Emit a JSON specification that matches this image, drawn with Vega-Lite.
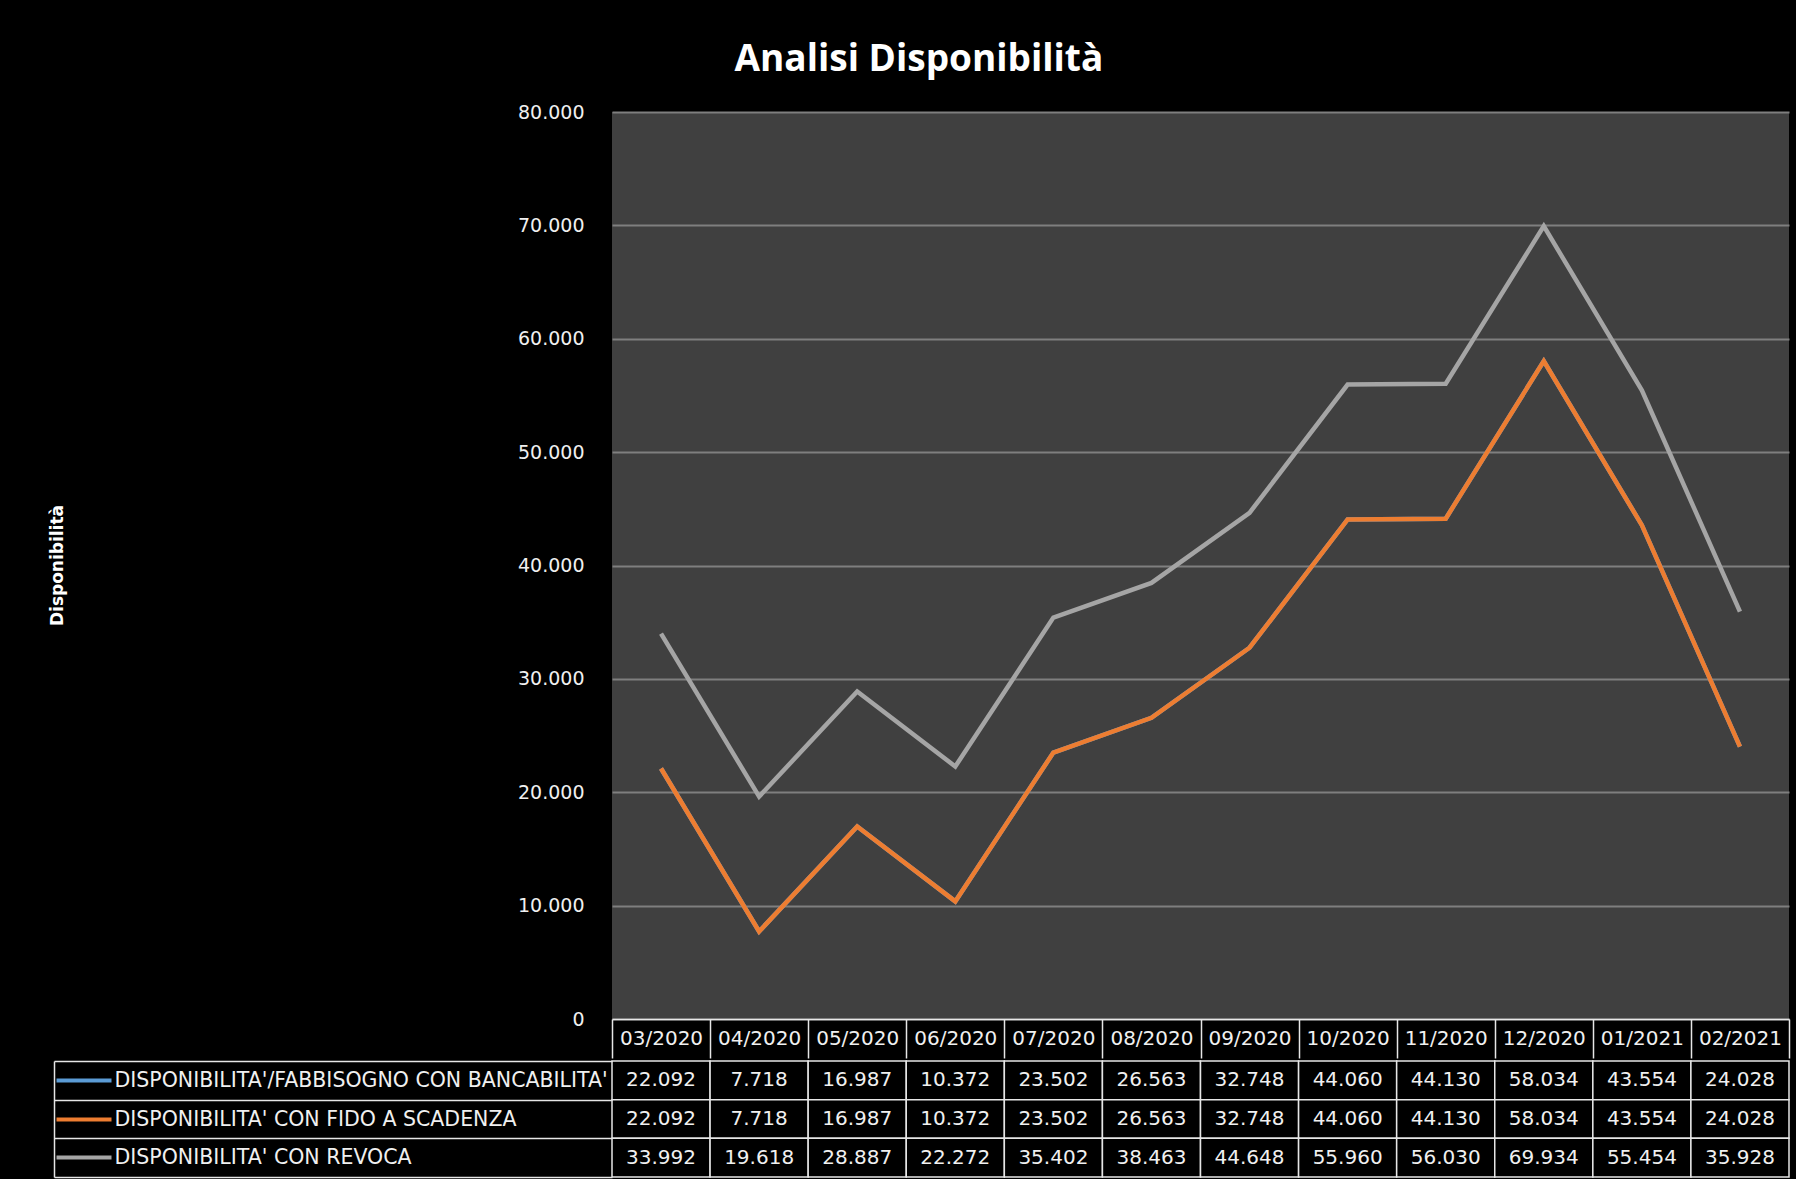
{
  "$schema": "https://vega.github.io/schema/vega-lite/v6.json",
  "background": "#000000",
  "padding": {"left": 48, "top": 41, "right": 9, "bottom": 4},
  "spacing": -8,
  "title": {"text": "Analisi Disponibilità", "font": "Open Sans", "fontSize": 37, "fontWeight": "bold", "color": "#ffffff", "anchor": "middle", "offset": 24},
  "config": {
    "locale": {"number": {"decimal": ",", "thousands": ".", "grouping": [3], "currency": ["€", ""]}},
    "view": {"stroke": null},
    "font": "DejaVu Sans"
  },
  "datasets": {
    "d": [
      {"serie": "DISPONIBILITA'/FABBISOGNO CON BANCABILITA'", "mese": "03/2020", "valore": 22092},
      {"serie": "DISPONIBILITA'/FABBISOGNO CON BANCABILITA'", "mese": "04/2020", "valore": 7718},
      {"serie": "DISPONIBILITA'/FABBISOGNO CON BANCABILITA'", "mese": "05/2020", "valore": 16987},
      {"serie": "DISPONIBILITA'/FABBISOGNO CON BANCABILITA'", "mese": "06/2020", "valore": 10372},
      {"serie": "DISPONIBILITA'/FABBISOGNO CON BANCABILITA'", "mese": "07/2020", "valore": 23502},
      {"serie": "DISPONIBILITA'/FABBISOGNO CON BANCABILITA'", "mese": "08/2020", "valore": 26563},
      {"serie": "DISPONIBILITA'/FABBISOGNO CON BANCABILITA'", "mese": "09/2020", "valore": 32748},
      {"serie": "DISPONIBILITA'/FABBISOGNO CON BANCABILITA'", "mese": "10/2020", "valore": 44060},
      {"serie": "DISPONIBILITA'/FABBISOGNO CON BANCABILITA'", "mese": "11/2020", "valore": 44130},
      {"serie": "DISPONIBILITA'/FABBISOGNO CON BANCABILITA'", "mese": "12/2020", "valore": 58034},
      {"serie": "DISPONIBILITA'/FABBISOGNO CON BANCABILITA'", "mese": "01/2021", "valore": 43554},
      {"serie": "DISPONIBILITA'/FABBISOGNO CON BANCABILITA'", "mese": "02/2021", "valore": 24028},
      {"serie": "DISPONIBILITA' CON FIDO A SCADENZA", "mese": "03/2020", "valore": 22092},
      {"serie": "DISPONIBILITA' CON FIDO A SCADENZA", "mese": "04/2020", "valore": 7718},
      {"serie": "DISPONIBILITA' CON FIDO A SCADENZA", "mese": "05/2020", "valore": 16987},
      {"serie": "DISPONIBILITA' CON FIDO A SCADENZA", "mese": "06/2020", "valore": 10372},
      {"serie": "DISPONIBILITA' CON FIDO A SCADENZA", "mese": "07/2020", "valore": 23502},
      {"serie": "DISPONIBILITA' CON FIDO A SCADENZA", "mese": "08/2020", "valore": 26563},
      {"serie": "DISPONIBILITA' CON FIDO A SCADENZA", "mese": "09/2020", "valore": 32748},
      {"serie": "DISPONIBILITA' CON FIDO A SCADENZA", "mese": "10/2020", "valore": 44060},
      {"serie": "DISPONIBILITA' CON FIDO A SCADENZA", "mese": "11/2020", "valore": 44130},
      {"serie": "DISPONIBILITA' CON FIDO A SCADENZA", "mese": "12/2020", "valore": 58034},
      {"serie": "DISPONIBILITA' CON FIDO A SCADENZA", "mese": "01/2021", "valore": 43554},
      {"serie": "DISPONIBILITA' CON FIDO A SCADENZA", "mese": "02/2021", "valore": 24028},
      {"serie": "DISPONIBILITA' CON REVOCA", "mese": "03/2020", "valore": 33992},
      {"serie": "DISPONIBILITA' CON REVOCA", "mese": "04/2020", "valore": 19618},
      {"serie": "DISPONIBILITA' CON REVOCA", "mese": "05/2020", "valore": 28887},
      {"serie": "DISPONIBILITA' CON REVOCA", "mese": "06/2020", "valore": 22272},
      {"serie": "DISPONIBILITA' CON REVOCA", "mese": "07/2020", "valore": 35402},
      {"serie": "DISPONIBILITA' CON REVOCA", "mese": "08/2020", "valore": 38463},
      {"serie": "DISPONIBILITA' CON REVOCA", "mese": "09/2020", "valore": 44648},
      {"serie": "DISPONIBILITA' CON REVOCA", "mese": "10/2020", "valore": 55960},
      {"serie": "DISPONIBILITA' CON REVOCA", "mese": "11/2020", "valore": 56030},
      {"serie": "DISPONIBILITA' CON REVOCA", "mese": "12/2020", "valore": 69934},
      {"serie": "DISPONIBILITA' CON REVOCA", "mese": "01/2021", "valore": 55454},
      {"serie": "DISPONIBILITA' CON REVOCA", "mese": "02/2021", "valore": 35928}
    ]
  },
  "vconcat": [
    {
      "width": 1177,
      "height": 907,
      "view": {"fill": "#404040", "stroke": null},
      "data": {"name": "d"},
      "mark": {"type": "line", "strokeWidth": 4.5},
      "encoding": {
        "x": {
          "field": "mese", "type": "ordinal",
          "sort": ["03/2020", "04/2020", "05/2020", "06/2020", "07/2020", "08/2020", "09/2020", "10/2020", "11/2020", "12/2020", "01/2021", "02/2021"],
          "scale": {"type": "band", "paddingInner": 0, "paddingOuter": 0},
          "axis": {
            "title": null, "orient": "bottom", "labelAngle": 0, "grid": false,
            "tickBand": "extent", "tickSize": 39, "tickColor": "#e6e6e6", "tickWidth": 1.5,
            "domainColor": "#e6e6e6", "domainWidth": 1.5,
            "labelColor": "#f0f0f0", "labelFont": "DejaVu Sans", "labelFontSize": 20,
            "labelBaseline": "middle", "labelPadding": -19.5
          }
        },
        "y": {
          "field": "valore", "type": "quantitative",
          "scale": {"domain": [0, 80000], "nice": false},
          "axis": {
            "title": "Disponibilità", "values": [0, 10000, 20000, 30000, 40000, 50000, 60000, 70000, 80000],
            "format": ",d", "labelFont": "DejaVu Sans", "labelFontSize": 19, "labelColor": "#f0f0f0", "labelPadding": 28,
            "ticks": false, "domain": false, "grid": true, "gridColor": "#7f7f7f", "gridWidth": 2,
            "titleColor": "#ffffff", "titleFont": "DejaVu Sans", "titleFontWeight": "bold", "titleFontSize": 17,
            "titleX": -555, "titleY": 453, "titleAngle": -90, "titleBaseline": "middle", "titleAlign": "center"
          }
        },
        "color": {
          "field": "serie", "type": "nominal",
          "scale": {"domain": ["DISPONIBILITA'/FABBISOGNO CON BANCABILITA'", "DISPONIBILITA' CON FIDO A SCADENZA", "DISPONIBILITA' CON REVOCA"], "range": ["#5B9BD5", "#ED7D31", "#A5A5A5"]},
          "legend": null
        }
      }
    },
    {
      "width": 1177,
      "height": 116,
      "view": {"stroke": null},
      "data": {"name": "d"},
      "layer": [
        {
          "mark": {"type": "rect", "fill": "#000000", "stroke": "#e6e6e6", "strokeWidth": 1.5},
          "encoding": {
            "x": {
              "field": "mese", "type": "ordinal",
              "sort": ["03/2020", "04/2020", "05/2020", "06/2020", "07/2020", "08/2020", "09/2020", "10/2020", "11/2020", "12/2020", "01/2021", "02/2021"],
              "scale": {"type": "band", "paddingInner": 0, "paddingOuter": 0},
              "axis": null
            },
            "y": {
              "field": "serie", "type": "nominal",
              "sort": ["DISPONIBILITA'/FABBISOGNO CON BANCABILITA'", "DISPONIBILITA' CON FIDO A SCADENZA", "DISPONIBILITA' CON REVOCA"],
              "scale": {"type": "band", "paddingInner": 0, "paddingOuter": 0},
              "axis": {
                "orient": "left", "offset": 558, "title": null, "grid": false,
                "domain": true, "domainColor": "#e6e6e6", "domainWidth": 1.5,
                "ticks": true, "tickBand": "extent", "tickSize": -558, "tickColor": "#e6e6e6", "tickWidth": 1.5,
                "labels": true, "labelAlign": "left", "labelPadding": 498, "labelColor": "#f0f0f0",
                "labelFont": "DejaVu Sans", "labelFontSize": 20.5, "labelLimit": 600
              }
            }
          }
        },
        {
          "mark": {"type": "text", "color": "#f0f0f0", "font": "DejaVu Sans", "fontSize": 20},
          "encoding": {
            "x": {
              "field": "mese", "type": "ordinal",
              "sort": ["03/2020", "04/2020", "05/2020", "06/2020", "07/2020", "08/2020", "09/2020", "10/2020", "11/2020", "12/2020", "01/2021", "02/2021"],
              "scale": {"type": "band", "paddingInner": 0, "paddingOuter": 0},
              "axis": null
            },
            "y": {
              "field": "serie", "type": "nominal",
              "sort": ["DISPONIBILITA'/FABBISOGNO CON BANCABILITA'", "DISPONIBILITA' CON FIDO A SCADENZA", "DISPONIBILITA' CON REVOCA"],
              "scale": {"type": "band", "paddingInner": 0, "paddingOuter": 0},
              "axis": {
                "orient": "left", "offset": 501, "title": null, "grid": false, "domain": false, "labels": false,
                "ticks": true, "tickSize": 55, "tickWidth": 4,
                "tickColor": {"condition": [{"test": "indexof(datum.value, 'REVOCA') >= 0", "value": "#A5A5A5"}, {"test": "indexof(datum.value, 'FIDO') >= 0", "value": "#ED7D31"}], "value": "#5B9BD5"}
              }
            },
            "text": {"field": "valore", "type": "quantitative", "format": ",d"}
          }
        }
      ],
      "resolve": {"axis": {"y": "independent"}}
    }
  ]
}
